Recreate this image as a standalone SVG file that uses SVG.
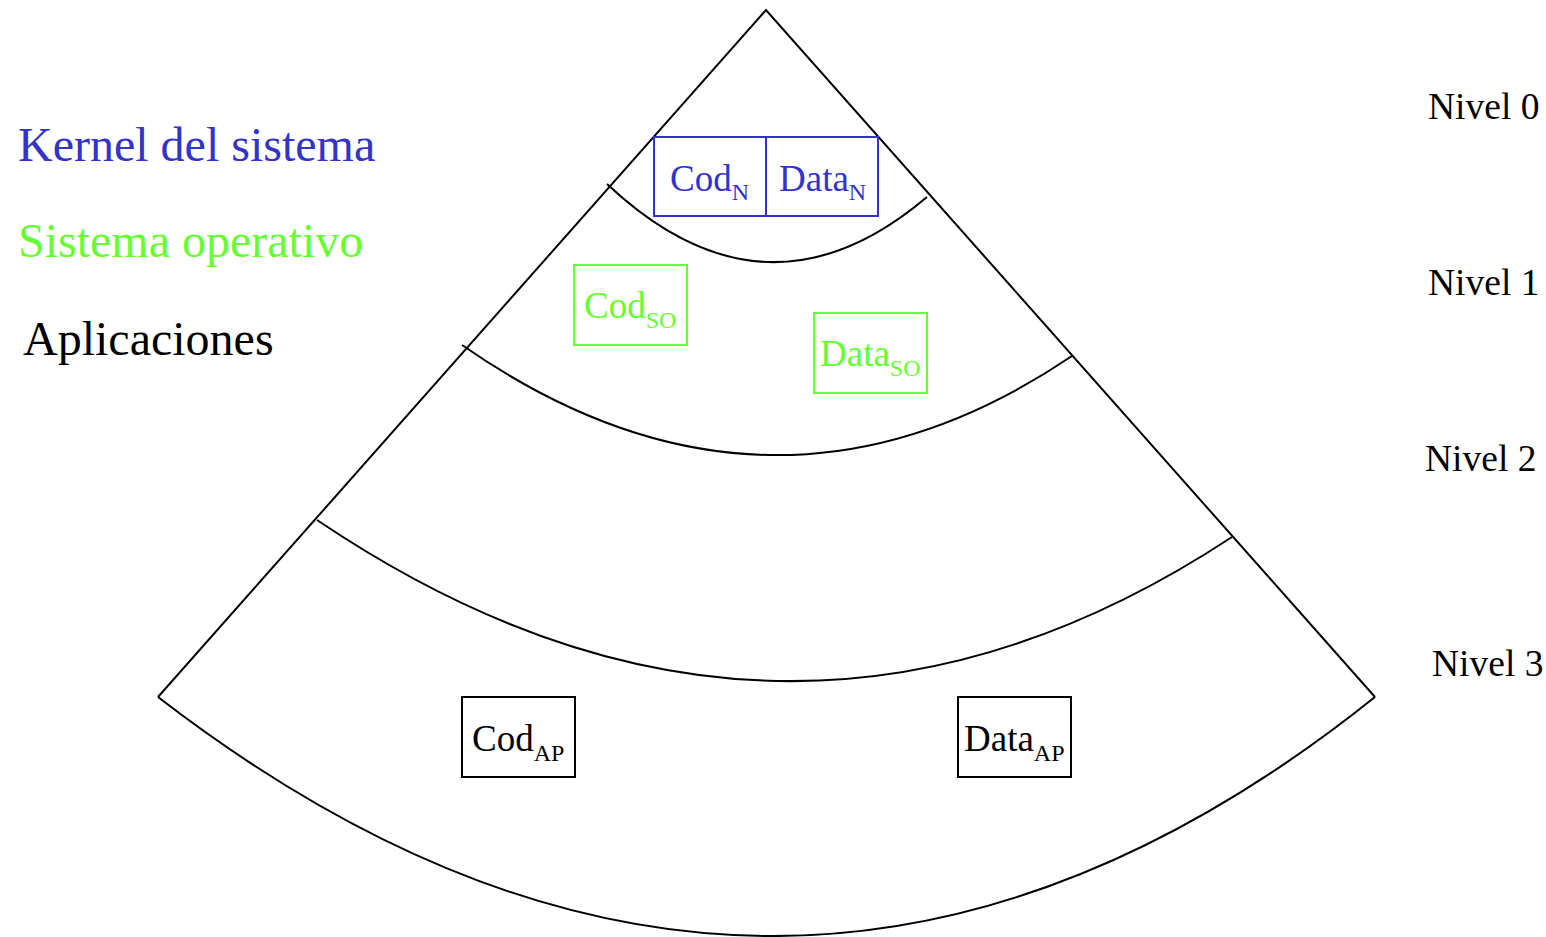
<svg xmlns="http://www.w3.org/2000/svg" width="1546" height="937" viewBox="0 0 1546 937">
<style>
text{font-family:"Liberation Serif","Times New Roman",serif}
.line{fill:none;stroke:#000;stroke-width:2}
.k{fill:none;stroke:#3333cc;stroke-width:2}
.kt{fill:#3333cc;font-size:37px}
.s{fill:none;stroke:#66ff33;stroke-width:2}
.st{fill:#66ff33;font-size:37px}
.a{fill:none;stroke:#000;stroke-width:2}
.at{fill:#000;font-size:37px}
.sub{font-size:24px}
.leg{font-size:48px}
.niv{font-size:37.5px;fill:#000}
</style>
<rect width="1546" height="937" fill="#fff"/>
<g id="connectors">
<path class="line" d="M158,697 L766,10 L1375,697"/>
<path class="line" d="M158,697 Q778,1175 1375,697"/>
<path class="line" d="M607,184 Q766,333.5 927,197"/>
<path class="line" d="M462,345 Q770,559.5 1072,356"/>
<path class="line" d="M317,520 Q782,833.5 1232,537"/>
</g>
<g id="codN">
<rect class="k" x="654" y="137" width="112" height="79"/>
<text class="kt" x="670" y="191">Cod<tspan class="sub" dy="9">N</tspan></text>
</g>
<g id="dataN">
<rect class="k" x="766" y="137" width="112" height="79"/>
<text class="kt" x="779" y="191">Data<tspan class="sub" dy="9">N</tspan></text>
</g>
<g id="codSO">
<rect class="s" x="574" y="265" width="113" height="80"/>
<text class="st" x="584" y="318">Cod<tspan class="sub" dy="10">SO</tspan></text>
</g>
<g id="dataSO">
<rect class="s" x="814" y="313" width="113" height="80"/>
<text class="st" x="820" y="366">Data<tspan class="sub" dy="10">SO</tspan></text>
</g>
<g id="codAP">
<rect class="a" x="462" y="697" width="113" height="80"/>
<text class="at" x="472" y="751">Cod<tspan class="sub" dy="10">AP</tspan></text>
</g>
<g id="dataAP">
<rect class="a" x="958" y="697" width="113" height="80"/>
<text class="at" x="964" y="751">Data<tspan class="sub" dy="10">AP</tspan></text>
</g>
<g id="legend">
<text class="leg" x="18" y="161" fill="#3333cc">Kernel del sistema</text>
<text class="leg" x="18" y="257" fill="#66ff33">Sistema operativo</text>
<text class="leg" x="23" y="355" fill="#000">Aplicaciones</text>
</g>
<g id="niveles">
<text class="niv" x="1428" y="119">Nivel 0</text>
<text class="niv" x="1428" y="295">Nivel 1</text>
<text class="niv" x="1425" y="471">Nivel 2</text>
<text class="niv" x="1432" y="676">Nivel 3</text>
</g>
</svg>
